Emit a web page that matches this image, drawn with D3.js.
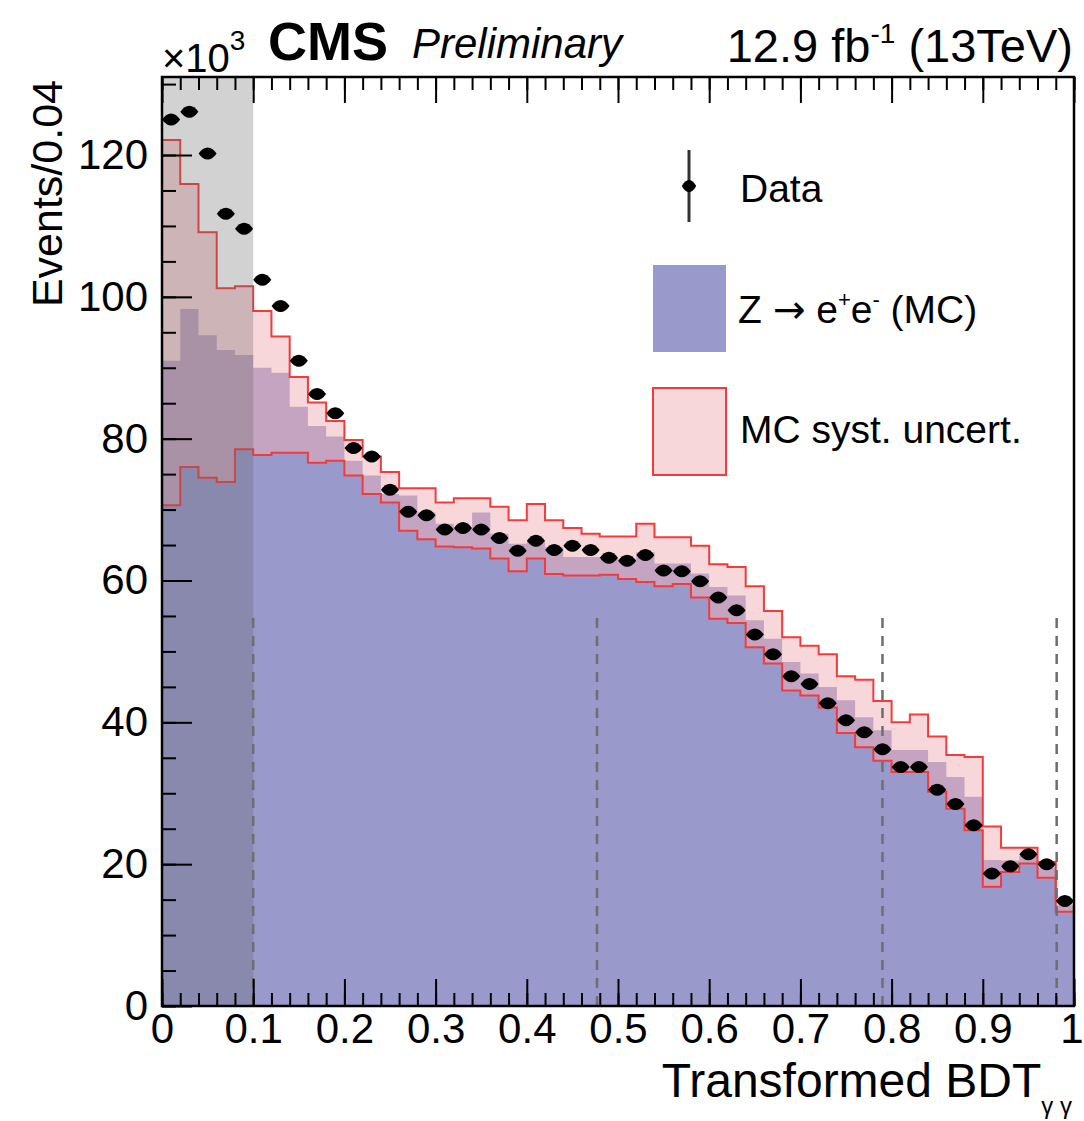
<!DOCTYPE html>
<html>
<head>
<meta charset="utf-8">
<script src="https://cdn.jsdelivr.net/npm/d3@7/dist/d3.min.js"></script>
<style>
  body { margin: 0; background: #fff; }
  text { font-family: "Liberation Sans", Arial, Helvetica, sans-serif; fill: #000; }
</style>
</head>
<body>
<div id="chart"></div>
<script>
// bin lower edges of the transformed BDT histogram (width 0.02)
const binLo = [0.00, 0.02, 0.04, 0.06, 0.08, 0.10, 0.12, 0.14, 0.16, 0.18,
               0.20, 0.22, 0.24, 0.26, 0.28, 0.30, 0.32, 0.34, 0.36, 0.38,
               0.40, 0.42, 0.44, 0.46, 0.48, 0.50, 0.52, 0.54, 0.56, 0.58,
               0.60, 0.62, 0.64, 0.66, 0.68, 0.70, 0.72, 0.74, 0.76, 0.78,
               0.80, 0.82, 0.84, 0.86, 0.88, 0.90, 0.92, 0.94, 0.96, 0.98];
const binWidth = 0.02;

// events, x10^3
const dataY = [125.0, 126.1, 120.2, 111.7, 109.6, 102.4, 98.7, 91.0, 86.3, 83.6,
               78.7, 77.5, 72.8, 69.7, 69.2, 67.2, 67.4, 67.2, 66.0, 64.2,
               65.6, 64.3, 64.9, 64.3, 63.2, 62.8, 63.6, 61.4, 61.3, 59.9,
               57.6, 55.8, 52.4, 49.6, 46.5, 45.4, 42.7, 40.3, 38.6, 36.2,
               33.7, 33.7, 30.5, 28.5, 25.5, 18.7, 19.7, 21.4, 20.0, 14.8];

const mcNom = [91.0, 98.3, 94.6, 92.5, 91.8, 90.0, 89.3, 84.5, 81.8, 80.3,
               76.9, 74.8, 72.2, 72.0, 69.6, 68.0, 67.5, 69.6, 66.6, 65.2,
               65.6, 64.7, 63.3, 63.3, 63.3, 63.0, 64.0, 62.4, 62.4, 61.0,
               59.1, 57.9, 54.4, 51.8, 48.5, 46.9, 45.0, 43.1, 40.7, 38.9,
               36.1, 36.1, 34.4, 32.3, 29.5, 20.6, 20.5, 21.2, 19.5, 14.2];

const mcLow = [70.6, 76.0, 74.5, 73.9, 78.5, 77.7, 78.0, 78.0, 76.6, 76.9,
               74.8, 72.2, 71.0, 67.0, 65.8, 64.8, 64.7, 64.5, 63.1, 61.3,
               63.1, 60.9, 60.7, 60.7, 60.8, 60.2, 59.8, 59.2, 59.5, 57.6,
               54.6, 54.0, 50.6, 48.3, 44.5, 43.8, 42.1, 38.5, 36.5, 34.6,
               33.0, 33.0, 30.2, 27.8, 24.8, 16.8, 18.9, 20.1, 18.1, 13.3];

const mcHigh = [122.1, 115.9, 109.1, 101.2, 101.5, 98.0, 94.4, 88.7, 85.1, 82.5,
                79.8, 77.5, 75.3, 73.0, 73.0, 71.0, 71.6, 71.6, 70.4, 68.5,
                70.8, 68.5, 67.4, 66.6, 66.2, 66.2, 68.0, 66.1, 66.1, 64.9,
                62.3, 61.9, 59.2, 55.7, 52.0, 50.8, 49.6, 46.5, 46.0, 43.0,
                40.0, 41.1, 38.0, 35.4, 35.1, 25.3, 22.3, 22.3, 20.3, 14.9];

const xTicks = [0, 0.1, 0.2, 0.3, 0.4, 0.5, 0.6, 0.7, 0.8, 0.9, 1];
const xTickLabels = ["0", "0.1", "0.2", "0.3", "0.4", "0.5", "0.6", "0.7", "0.8", "0.9", "1"];
const yTicks = [0, 20, 40, 60, 80, 100, 120];
const yTickLabels = ["0", "20", "40", "60", "80", "100", "120"];

// category boundaries (dashed) and excluded region
const cutLines = [0.1, 0.477, 0.79, 0.981];
const cutTop = 55;
const excluded = [0, 0.1];

const W = 1084, H = 1121;
const margin = { top: 77, right: 10, bottom: 115, left: 162 };
const width = W - margin.left - margin.right;
const height = H - margin.top - margin.bottom;

const x = d3.scaleLinear().domain([0, 1]).range([0, width]);
const y = d3.scaleLinear().domain([0, 131]).range([height, 0]);

const root = d3.select("#chart").append("svg")
  .attr("width", W)
  .attr("height", H);

const svg = root.append("g")
  .attr("transform", "translate(" + margin.left + "," + margin.top + ")");

svg.append("clipPath").attr("id", "plotclip")
  .append("rect").attr("width", width).attr("height", height);

// step points for a histogram
function steps(vals) {
  const pts = [];
  binLo.forEach((lo, i) => {
    pts.push({ x: lo, v: vals[i] });
    pts.push({ x: lo + binWidth, v: vals[i] });
  });
  return pts;
}

const plot = svg.append("g").attr("clip-path", "url(#plotclip)");

// Z -> ee MC
plot.append("path")
  .datum(steps(mcNom))
  .attr("fill", "#9999cc")
  .attr("d", d3.area().x(d => x(d.x)).y0(y(0)).y1(d => y(d.v)));

// syst band
const hiPts = steps(mcHigh);
const bandPts = steps(mcLow).map((d, k) => ({ x: d.x, lo: d.v, hi: hiPts[k].v }));
plot.append("path")
  .datum(bandPts)
  .attr("fill", "rgb(242,176,182)")
  .attr("fill-opacity", 0.5)
  .attr("d", d3.area().x(d => x(d.x)).y0(d => y(d.lo)).y1(d => y(d.hi)));

const stepLine = d3.line().x(d => x(d.x)).y(d => y(d.v));
[mcLow, mcHigh].forEach(vals => {
  plot.append("path")
    .datum(steps(vals))
    .attr("fill", "none")
    .attr("stroke", "#f23c3c")
    .attr("stroke-width", 2)
    .attr("d", stepLine);
});

// excluded region shading
plot.append("rect")
  .attr("x", x(excluded[0]))
  .attr("y", 0)
  .attr("width", x(excluded[1]) - x(excluded[0]))
  .attr("height", height)
  .attr("fill", "#646464")
  .attr("fill-opacity", 0.29);

// dashed category boundaries
svg.selectAll(".cut")
  .data(cutLines)
  .enter().append("line")
  .attr("class", "cut")
  .attr("x1", d => x(d)).attr("x2", d => x(d))
  .attr("y1", y(0)).attr("y2", y(cutTop))
  .attr("stroke", "#6e6e6e")
  .attr("stroke-width", 2.5)
  .attr("stroke-dasharray", "10,8");

// data markers
const marker = "M-9,0 Q-5,-6 0,-6 Q5,-6 9,0 Q5,6 0,6 Q-5,6 -9,0 Z";
svg.selectAll(".pt")
  .data(dataY)
  .enter().append("path")
  .attr("class", "pt")
  .attr("d", marker)
  .attr("fill", "#000")
  .attr("transform", (d, i) => "translate(" + x(binLo[i] + binWidth / 2) + "," + y(d) + ")");

// axes
const xMinor = d3.range(0, 1.0001, 0.02);
const yMinor = d3.range(0, 131, 5);

const fmtX = d => xTickLabels[xTicks.indexOf(d)];
const fmtY = d => yTickLabels[yTicks.indexOf(d)];

function styleAxis(g) {
  g.select(".domain").remove();
  g.selectAll("line").attr("stroke", "#000").attr("stroke-width", 2);
}

svg.append("g")
  .attr("transform", "translate(0," + height + ")")
  .call(d3.axisBottom(x).tickValues(xMinor).tickSize(-13).tickFormat(""))
  .call(styleAxis);
const xAxisG = svg.append("g")
  .attr("transform", "translate(0," + height + ")")
  .call(d3.axisBottom(x).tickValues(xTicks).tickSize(-27).tickPadding(7).tickFormat(fmtX))
  .call(styleAxis);
xAxisG.selectAll("text").attr("font-size", 42);
// last label sits against the page edge
xAxisG.selectAll("text").filter(d => d === 1)
  .attr("text-anchor", "end").attr("x", 9);

svg.append("g")
  .call(d3.axisTop(x).tickValues(xMinor).tickSize(-13).tickFormat(""))
  .call(styleAxis);
svg.append("g")
  .call(d3.axisTop(x).tickValues(xTicks).tickSize(-26).tickFormat(""))
  .call(styleAxis);

svg.append("g")
  .call(d3.axisLeft(y).tickValues(yMinor).tickSize(-14).tickFormat(""))
  .call(styleAxis);
svg.append("g")
  .call(d3.axisLeft(y).tickValues(yTicks).tickSize(-30).tickPadding(14).tickFormat(fmtY))
  .call(styleAxis)
  .selectAll("text").attr("font-size", 42);

// frame
svg.append("rect")
  .attr("width", width).attr("height", height)
  .attr("fill", "none").attr("stroke", "#000").attr("stroke-width", 2.5);

// axis titles
const xt = root.append("text")
  .attr("x", 1072).attr("y", 1097)
  .attr("text-anchor", "end")
  .attr("font-size", 48);
xt.append("tspan").text("Transformed BDT");
xt.append("tspan").attr("font-size", 24).attr("dy", 17).text("\u03b3 \u03b3");

root.append("text")
  .attr("transform", "translate(62,80) rotate(-90)")
  .attr("text-anchor", "end")
  .attr("font-size", 43)
  .text("Events/0.04");

// header
const mult = root.append("text").attr("x", 162).attr("y", 72).attr("font-size", 40);
mult.append("tspan").text("\u00d710");
mult.append("tspan").attr("font-size", 28).attr("dy", -22).text("3");

root.append("text")
  .attr("x", 268).attr("y", 60)
  .attr("font-size", 54).attr("font-weight", "bold")
  .text("CMS");
root.append("text")
  .attr("x", 412).attr("y", 58)
  .attr("font-size", 42).attr("font-style", "italic")
  .text("Preliminary");

const lumi = root.append("text")
  .attr("x", 1073).attr("y", 62)
  .attr("text-anchor", "end")
  .attr("font-size", 47);
lumi.append("tspan").text("12.9 fb");
lumi.append("tspan").attr("font-size", 28).attr("dy", -19).text("-1");
lumi.append("tspan").attr("dy", 19).text(" (13TeV)");

// legend
const leg = root.append("g");
leg.append("line")
  .attr("x1", 689).attr("x2", 689).attr("y1", 150).attr("y2", 222)
  .attr("stroke", "#333").attr("stroke-width", 3);
leg.append("path").attr("d", marker).attr("transform", "translate(689,186) scale(0.8,1)").attr("fill", "#000");
leg.append("text").attr("x", 740).attr("y", 202).attr("font-size", 39).text("Data");

leg.append("rect")
  .attr("x", 653).attr("y", 265).attr("width", 73).attr("height", 87)
  .attr("fill", "#9999cc");
const zt = leg.append("text").attr("x", 738).attr("y", 323).attr("font-size", 39);
zt.append("tspan").text("Z ");
zt.append("tspan").style("font-family", "'DejaVu Sans', sans-serif").text("\u2192");
zt.append("tspan").text(" e");
zt.append("tspan").attr("font-size", 22).attr("dy", -16).text("+");
zt.append("tspan").attr("dy", 16).text("e");
zt.append("tspan").attr("font-size", 22).attr("dy", -16).text("-");
zt.append("tspan").attr("dy", 16).text(" (MC)");

leg.append("rect")
  .attr("x", 653).attr("y", 388).attr("width", 73).attr("height", 87)
  .attr("fill", "rgb(242,176,182)").attr("fill-opacity", 0.5)
  .attr("stroke", "#f23c3c").attr("stroke-width", 2);
leg.append("text").attr("x", 740).attr("y", 443).attr("font-size", 39).text("MC syst. uncert.");
</script>
</body>
</html>
